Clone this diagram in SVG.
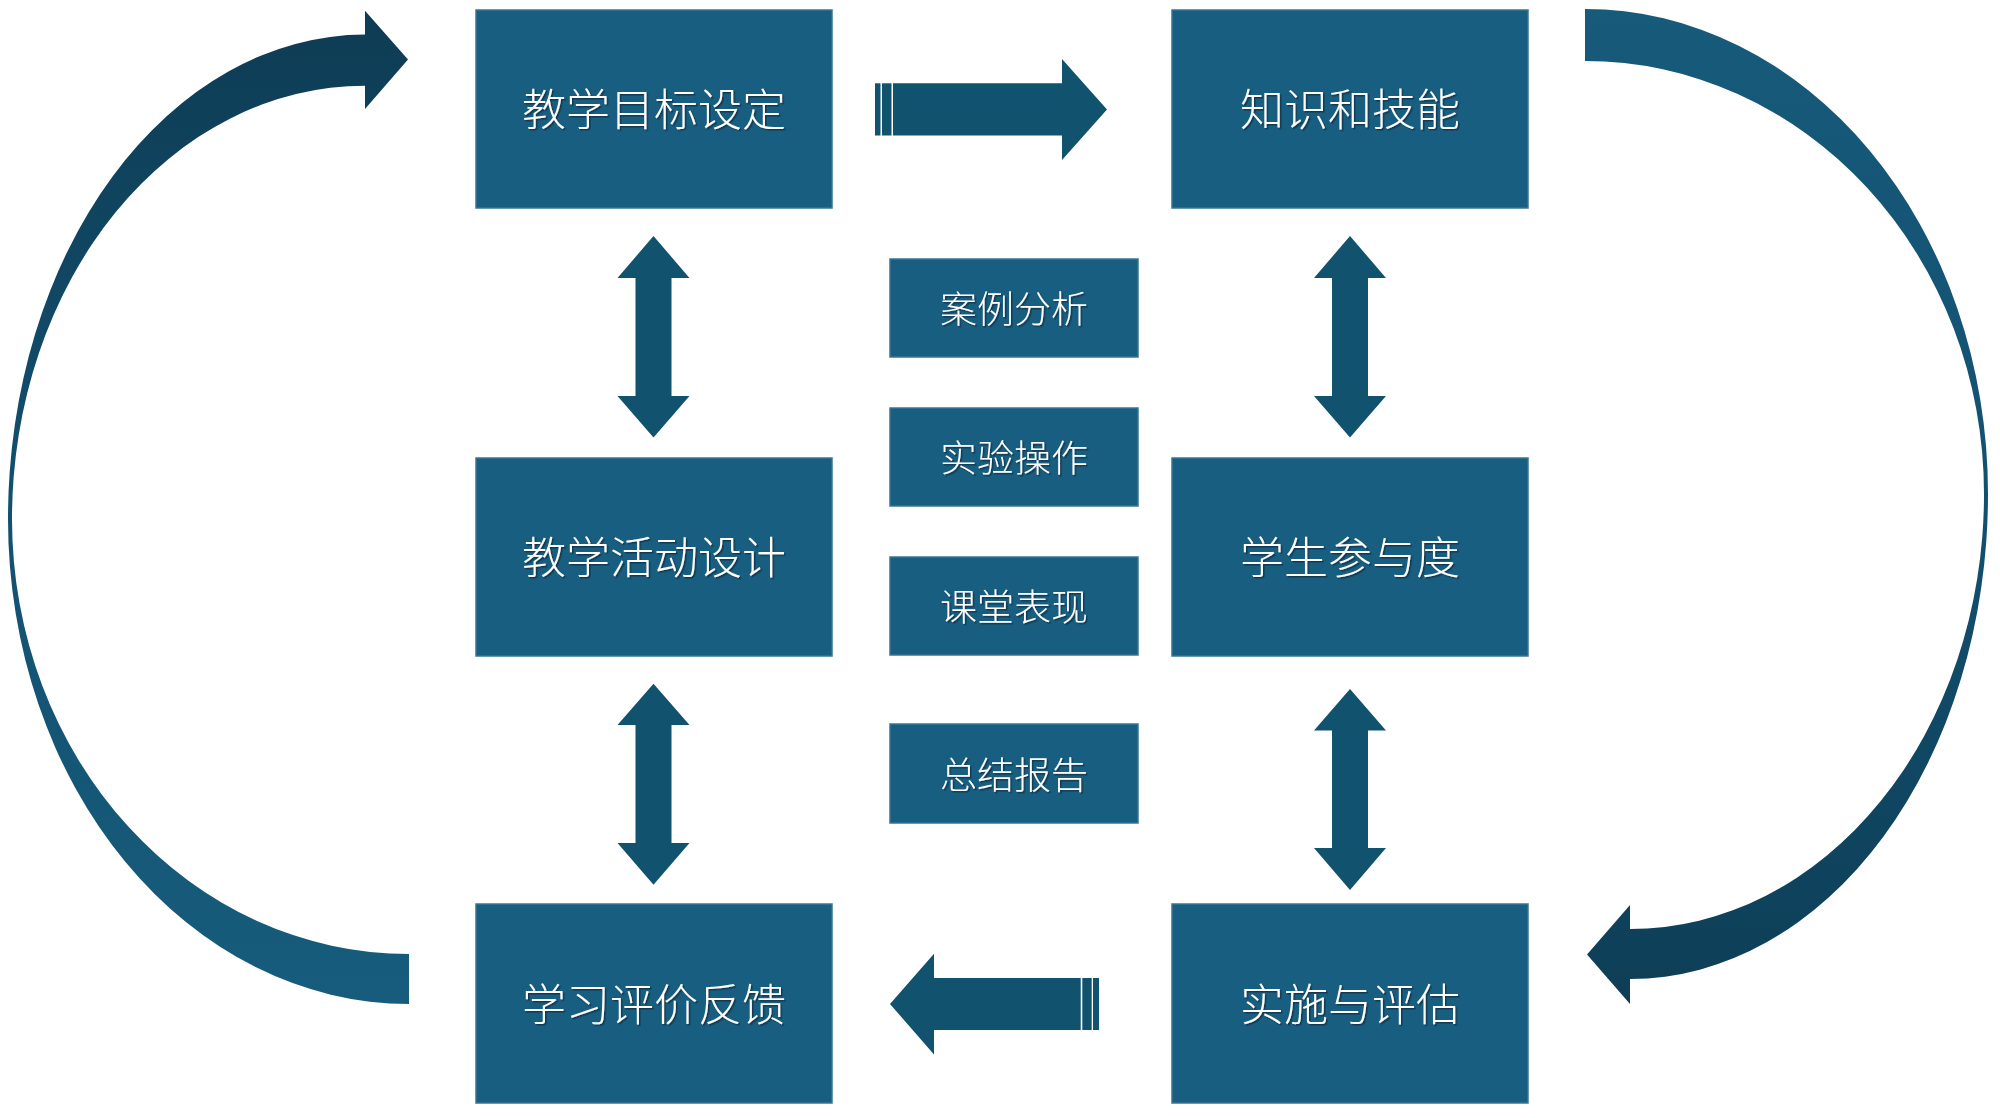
<svg xmlns="http://www.w3.org/2000/svg" width="2000" height="1118" viewBox="0 0 2000 1118">
<defs>
<style>
.box{fill:#175E80;stroke:#3A7494;stroke-width:1.5}
.arw{fill:#11526F}
.big{font-family:"Noto Sans CJK SC","Noto Sans",sans-serif;font-size:44px;font-weight:300;fill:#FFFFFF;text-anchor:middle;dominant-baseline:central;filter:url(#sh)}
.sm{font-family:"Noto Sans CJK SC","Noto Sans",sans-serif;font-size:37px;font-weight:300;fill:#FFFFFF;text-anchor:middle;dominant-baseline:central;filter:url(#sh)}
</style>
<filter id="sh" x="-10%" y="-20%" width="120%" height="140%">
<feDropShadow dx="1.5" dy="1.5" stdDeviation="0.6" flood-color="#0A2A3A" flood-opacity="0.7"/>
</filter>
<linearGradient id="gl" x1="0" y1="0" x2="0" y2="1">
<stop offset="0" stop-color="#0E3C54"/>
<stop offset="0.5" stop-color="#125070"/>
<stop offset="1" stop-color="#175C7C"/>
</linearGradient>
<linearGradient id="gr" x1="0" y1="0" x2="0" y2="1">
<stop offset="0" stop-color="#175A7A"/>
<stop offset="0.5" stop-color="#125070"/>
<stop offset="1" stop-color="#0E3E56"/>
</linearGradient>
</defs>
<rect width="2000" height="1118" fill="#FFFFFF"/>
<g id="connectors">
<path id="curve-left" fill="url(#gl)" d="M409,1004 A401,485 0 0 1 8,519 A357,484.4 0 0 1 365,34.6 L365,10.7 L408,59.5 L365,109 L365,85.7 A353,433.3 0 0 0 12,519 A397,435 0 0 0 409,954 Z"/>
<path id="curve-right" fill="url(#gr)" d="M1585,9 A403,485 0 0 1 1988,494 A358,485 0 0 1 1630,979 L1630,1004 L1587,954.5 L1630,905 L1630,929 A354,435 0 0 0 1984,494 A399,433 0 0 0 1585,61 Z"/>
<g class="arw">
<rect x="875" y="83.3" width="5.5" height="52.2"/>
<rect x="882" y="83.3" width="9.5" height="52.2"/>
<polygon points="893,83.3 1062,83.3 1062,59 1107,109.5 1062,160 1062,135.5 893,135.5"/>
<polygon points="890,1004 934,953.7 934,978 1080.7,978 1080.7,1030 934,1030 934,1054.4"/>
<rect x="1082.3" y="978" width="9.4" height="52"/>
<rect x="1093" y="978" width="6" height="52"/>
<polygon points="653.5,236 689.5,278 671.5,278 671.5,396 689.5,396 653.5,437.5 617.5,396 635.5,396 635.5,278 617.5,278"/>
<polygon points="1350,236 1386,278 1368,278 1368,396 1386,396 1350,437.5 1314,396 1332,396 1332,278 1314,278"/>
<polygon points="653.5,683.7 689.5,725 671.5,725 671.5,843 689.5,843 653.5,884.8 617.5,843 635.5,843 635.5,725 617.5,725"/>
<polygon points="1350,689 1386,730.5 1368,730.5 1368,848 1386,848 1350,890 1314,848 1332,848 1332,730.5 1314,730.5"/>
</g>
</g>
<g id="n1"><rect class="box" x="476" y="10" width="356" height="198"/><text class="big" x="654" y="107">教学目标设定</text></g>
<g id="n2"><rect class="box" x="1172" y="10" width="356" height="198"/><text class="big" x="1350" y="107">知识和技能</text></g>
<g id="n3"><rect class="box" x="476" y="458" width="356" height="198"/><text class="big" x="654" y="555">教学活动设计</text></g>
<g id="n4"><rect class="box" x="1172" y="458" width="356" height="198"/><text class="big" x="1350" y="555">学生参与度</text></g>
<g id="n5"><rect class="box" x="476" y="904" width="356" height="199"/><text class="big" x="654" y="1002">学习评价反馈</text></g>
<g id="n6"><rect class="box" x="1172" y="904" width="356" height="199"/><text class="big" x="1350" y="1002">实施与评估</text></g>
<g id="m1"><rect class="box" x="890" y="259" width="248" height="98"/><text class="sm" x="1014" y="307">案例分析</text></g>
<g id="m2"><rect class="box" x="890" y="408" width="248" height="98"/><text class="sm" x="1014" y="456">实验操作</text></g>
<g id="m3"><rect class="box" x="890" y="557" width="248" height="98"/><text class="sm" x="1014" y="605">课堂表现</text></g>
<g id="m4"><rect class="box" x="890" y="724" width="248" height="99"/><text class="sm" x="1014" y="772.5">总结报告</text></g>
</svg>
